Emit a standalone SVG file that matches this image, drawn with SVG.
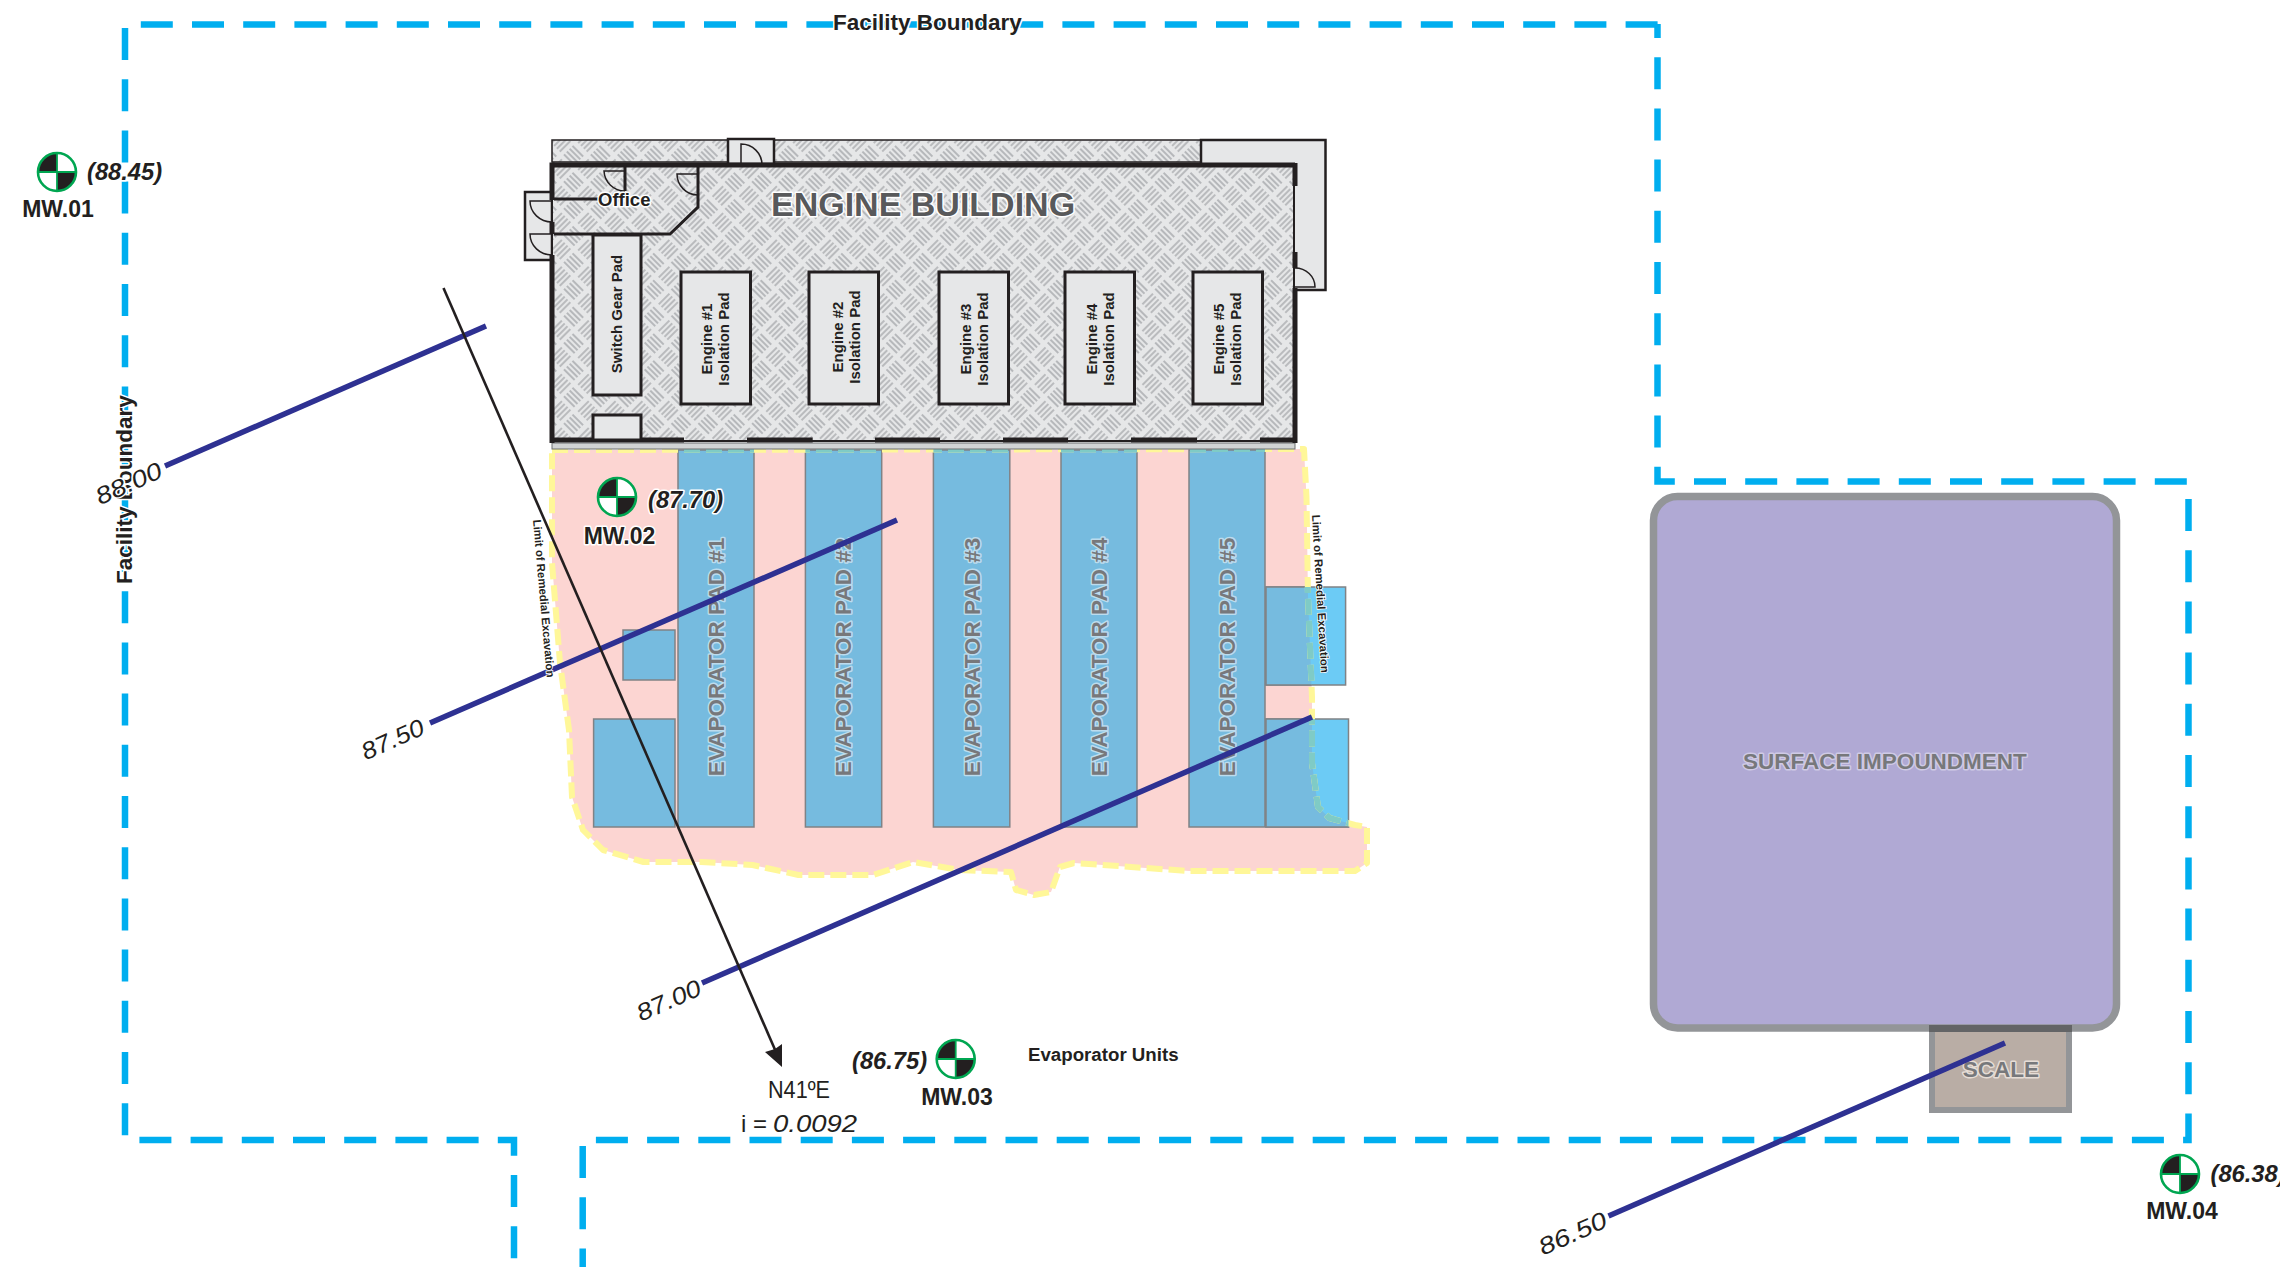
<svg xmlns="http://www.w3.org/2000/svg" xmlns:xlink="http://www.w3.org/1999/xlink" width="2280" height="1267" viewBox="0 0 2280 1267">
<style>
text{font-family:"Liberation Sans",Arial,sans-serif;fill:#231f20}
.b{font-weight:bold}
.bound{fill:none;stroke:#00aeef;stroke-width:6.5;stroke-dasharray:32 19.2}
.halo{paint-order:stroke;stroke:#fff;stroke-width:3;stroke-linejoin:round}
.pad{fill:#e6e7e8;stroke:#231f20;stroke-width:3}
.wall{fill:none;stroke:#231f20;stroke-width:5}
.thin{fill:none;stroke:#231f20;stroke-width:2}
.door{fill:none;stroke:#231f20;stroke-width:1.5}
.lite{fill:#e6e7e8;stroke:#231f20;stroke-width:2.5}
.evap{fill:#76bbdf;stroke:#808285;stroke-width:1.5}
.sideL{fill:#6ccbf5;stroke:#808285;stroke-width:1.5}
.evt{font-size:22.5px;font-weight:bold;fill:#77787b;paint-order:stroke;stroke:#bcdcee;stroke-width:3;stroke-linejoin:round;text-anchor:middle}
.ept{font-size:15px;font-weight:bold;text-anchor:middle;paint-order:stroke;stroke:#e6e7e8;stroke-width:1}
.contour{fill:none;stroke:#2e3192;stroke-width:5.5}
.cl{font-size:24px;font-style:italic;text-anchor:middle}
.mw{font-size:23px;font-weight:bold;text-anchor:middle}
.el{font-size:23.7px;font-weight:bold;font-style:italic}
.lim{font-size:11.4px;font-weight:bold;paint-order:stroke;stroke:#fff;stroke-width:1.5}
.lim-line{fill:none;stroke-width:6;stroke-dasharray:16 6;stroke-linejoin:round}
</style>
<defs>
<pattern id="plate" patternUnits="userSpaceOnUse" width="38" height="38" patternTransform="rotate(45 552 165)">
<rect width="38" height="38" fill="#e6e7e8"/>
<g stroke="#a7a9ac" stroke-width="1.4">
<path d="M2 4H17M2 8H17M2 12H17M2 16H17"/>
<path d="M21 23H36M21 27H36M21 31H36M21 35H36"/>
<path d="M23 2V17M27 2V17M31 2V17M35 2V17"/>
<path d="M4 21V36M8 21V36M12 21V36M16 21V36"/>
</g>
</pattern>
<path id="limit" d="M552,450 L1304,449 L1306.5,497 L1308,597 L1312,697 L1312,763 L1318,807 L1329.5,818 L1355,825 L1367,827 L1367,863 L1355,871 L1189,871 L1074,863 L1060,867 L1051,892 L1034,895 L1016,890 L1011,872 L959,870 L913,862 L873,875 L798.5,875 L752.6,865 L701,862 L643.5,862 L603,850 L583,830 L572,797 L569,730 L560,663 L552,563 Z"/>
<clipPath id="pinkClip"><use href="#limit"/></clipPath>
<clipPath id="boxClip">
<rect x="678" y="440" width="76" height="387"/><rect x="805.4" y="440" width="76.3" height="387"/><rect x="933.4" y="440" width="76.4" height="387"/><rect x="1061" y="440" width="76" height="387"/><rect x="1189" y="440" width="76" height="387"/><rect x="1266" y="587" width="79.6" height="98"/><rect x="1266" y="719" width="82.5" height="108"/>
</clipPath>
<g id="well">
<circle r="19" fill="#fff"/>
<path d="M0,0V-19A19,19 0 0 0 -19,0Z M0,0V19A19,19 0 0 0 19,0Z" fill="#231f20"/>
<path d="M-19,0H19M0,-19V19" stroke="#00a651" stroke-width="1.8" fill="none"/>
<circle r="19" fill="none" stroke="#00a651" stroke-width="2.6"/>
</g>
</defs>
<rect width="2280" height="1267" fill="#fff"/>

<g id="facility-boundary">
<path class="bound" d="M125,28V1140H514V1267"/>
<path class="bound" d="M140.8,24.5H1658"/>
<path class="bound" stroke-dashoffset="18" d="M1657.5,24V481.5H2188.5V1140H592"/>
<path class="bound" d="M582.7,1146V1267"/>
</g>

<g id="remedial-excavation"><use href="#limit" fill="#fcd5d2"/></g>

<g id="evaporator-pads">
<rect class="evap" x="623" y="630" width="52" height="50"/>
<rect class="evap" x="593.6" y="719" width="81.4" height="108"/>
<rect class="sideL" x="1266" y="587" width="79.6" height="98"/>
<rect class="sideL" x="1266" y="719" width="82.5" height="108"/>
<g clip-path="url(#pinkClip)">
<rect class="evap" x="1266" y="587" width="79.6" height="98"/>
<rect class="evap" x="1266" y="719" width="82.5" height="108"/>
</g>
<g id="evap-1"><rect class="evap" x="678" y="450" width="76" height="377"/><text class="evt" transform="translate(724,657) rotate(-90)">EVAPORATOR PAD #1</text></g>
<g id="evap-2"><rect class="evap" x="805.4" y="450" width="76.3" height="377"/><text class="evt" transform="translate(851,657) rotate(-90)">EVAPORATOR PAD #2</text></g>
<g id="evap-3"><rect class="evap" x="933.4" y="450" width="76.4" height="377"/><text class="evt" transform="translate(980,657) rotate(-90)">EVAPORATOR PAD #3</text></g>
<g id="evap-4"><rect class="evap" x="1061" y="450" width="76" height="377"/><text class="evt" transform="translate(1107,657) rotate(-90)">EVAPORATOR PAD #4</text></g>
<g id="evap-5"><rect class="evap" x="1189" y="450" width="76" height="377"/><text class="evt" transform="translate(1235,657) rotate(-90)">EVAPORATOR PAD #5</text></g>
</g>

<g id="remedial-limit">
<use href="#limit" class="lim-line" stroke="#fff799"/>
<g clip-path="url(#boxClip)"><use href="#limit" class="lim-line" stroke="#7fcbc6"/></g>
</g>

<g id="engine-building">
<rect x="552" y="140" width="649" height="22" fill="url(#plate)" stroke="#231f20" stroke-width="1.5"/>
<rect class="lite" x="1201" y="140" width="124.5" height="150"/>
<rect class="lite" x="728" y="139" width="46" height="25"/>
<rect class="lite" x="525" y="192" width="27" height="68"/>
<rect x="552" y="443" width="743" height="6" fill="#d1d3d4" stroke="#6d6e71" stroke-width="1"/>
<rect x="552" y="165" width="743" height="276" fill="url(#plate)"/>
<path class="wall" d="M552,165H1295"/>
<path class="wall" d="M552,162.5V200M552,222V234M552,255V443"/>
<path class="thin" d="M552,200V222M552,234V255M1294,186V252M1294,268V288M552,441H1295"/>
<path class="wall" d="M1295,163V186M1295,252V268M1295,288V443"/>
<path class="wall" d="M550,440H684M747,440H812.7M875,440H940M1003,440H1068M1131,440H1197M1260,440H1297"/>
<path class="wall" style="stroke-width:3" d="M698,165V207L670,234H554M625,165V191M554,199H600"/>
<path class="door" d="M625,171H604A21,21 0 0 0 625,191M698,174H677A21,21 0 0 0 698,195M552,201H530A22,21 0 0 0 552,222M552,234H530A22,21 0 0 0 552,255"/>
<path class="door" d="M741,163V144A21,21 0 0 1 762,165"/>
<path class="door" d="M1295,268A20,19 0 0 1 1315,287H1295"/>
<g id="switch-gear-pad"><rect class="pad" x="593" y="235" width="48" height="160"/><text class="ept" transform="translate(622,314) rotate(-90)">Switch Gear Pad</text></g>
<rect id="small-pad" class="pad" x="593" y="415" width="48" height="25"/>
<g id="engine-1"><rect class="pad" x="681" y="272" width="69.5" height="132"/><text class="ept" transform="translate(712,339) rotate(-90)">Engine #1</text><text class="ept" transform="translate(729,339) rotate(-90)">Isolation Pad</text></g>
<g id="engine-2"><rect class="pad" x="809" y="272" width="69.5" height="132"/><text class="ept" transform="translate(843,337) rotate(-90)">Engine #2</text><text class="ept" transform="translate(860,337) rotate(-90)">Isolation Pad</text></g>
<g id="engine-3"><rect class="pad" x="939" y="272" width="69.5" height="132"/><text class="ept" transform="translate(971,339) rotate(-90)">Engine #3</text><text class="ept" transform="translate(988,339) rotate(-90)">Isolation Pad</text></g>
<g id="engine-4"><rect class="pad" x="1065" y="272" width="69.5" height="132"/><text class="ept" transform="translate(1097,339) rotate(-90)">Engine #4</text><text class="ept" transform="translate(1114,339) rotate(-90)">Isolation Pad</text></g>
<g id="engine-5"><rect class="pad" x="1193" y="272" width="69.5" height="132"/><text class="ept" transform="translate(1224,339) rotate(-90)">Engine #5</text><text class="ept" transform="translate(1241,339) rotate(-90)">Isolation Pad</text></g>
<text class="b" x="771" y="216" font-size="34" style="fill:#58595b;paint-order:stroke;stroke:#fff;stroke-width:3;stroke-linejoin:round">ENGINE BUILDING</text>
<text class="b halo" x="598" y="206" font-size="18.5">Office</text>
</g>

<g id="surface-impoundment">
<rect x="1653.5" y="496.5" width="463" height="531.5" rx="24" fill="#b0a9d4" stroke="#939598" stroke-width="7.5"/>
<text class="b" x="1885" y="769" font-size="22.5" text-anchor="middle" style="fill:#77787b;paint-order:stroke;stroke:#cfcae5;stroke-width:3;stroke-linejoin:round">SURFACE IMPOUNDMENT</text>
</g>
<g id="scale">
<rect x="1932" y="1028" width="137" height="82" fill="#b9ada5" stroke="#939598" stroke-width="6"/>
<rect x="1929" y="1025" width="143" height="7" fill="#636466"/>
<text class="b" x="2001" y="1077" font-size="22.5" text-anchor="middle" style="fill:#77787b;paint-order:stroke;stroke:#e6ddd6;stroke-width:3;stroke-linejoin:round">SCALE</text>
</g>

<g id="connectors">
<path class="contour" d="M165,466L486,326"/>
<path class="contour" d="M430,723L897,520"/>
<path class="contour" d="M702,983L1312,717"/>
<path class="contour" d="M1608.5,1216L2005,1043"/>
<path fill="none" stroke="#231f20" stroke-width="2.6" d="M443.5,288L776,1052"/>
<path fill="#231f20" d="M782,1067L765,1052L775,1049L782,1044Z"/>
</g>

<g id="gradient-label">
<text x="768" y="1098" font-size="24" textLength="62" lengthAdjust="spacingAndGlyphs">N41ºE</text>
<text x="741" y="1131.5" font-size="24">i =</text>
<text x="773" y="1131.5" font-size="24" font-style="italic" textLength="84" lengthAdjust="spacingAndGlyphs">0.0092</text>
</g>

<g id="labels">
<text class="b" x="1028" y="1061" font-size="18.7">Evaporator Units</text>
<text class="b halo" x="833" y="30" font-size="22.5">Facility Boundary</text>
<text class="b halo" font-size="22.5" transform="translate(132,584) rotate(-90)">Facility Boundary</text>
<text class="lim" transform="translate(533,520) rotate(85)">Limit of Remedial Excavation</text>
<text class="lim" transform="translate(1312,515) rotate(86.7)">Limit of Remedial Excavation</text>
</g>

<g id="contour-labels">
<text class="cl halo" textLength="70" lengthAdjust="spacingAndGlyphs" transform="translate(132,491) rotate(-24)">88.00</text>
<text class="cl" textLength="66" lengthAdjust="spacingAndGlyphs" transform="translate(396,747) rotate(-24)">87.50</text>
<text class="cl" textLength="68" lengthAdjust="spacingAndGlyphs" transform="translate(672,1008) rotate(-24)">87.00</text>
<text class="cl" textLength="72" lengthAdjust="spacingAndGlyphs" transform="translate(1576,1241) rotate(-24)">86.50</text>
</g>

<g id="MW01"><use href="#well" x="57" y="172"/><text class="mw" x="58" y="217">MW.01</text><text class="el halo" x="87" y="180">(88.45)</text></g>
<g id="MW02"><use href="#well" x="617" y="497"/><text class="mw halo" x="619.5" y="544">MW.02</text><text class="el halo" x="648" y="508">(87.70)</text></g>
<g id="MW03"><use href="#well" x="955.7" y="1059"/><text class="mw" x="957" y="1105">MW.03</text><text class="el" x="852" y="1069">(86.75)</text></g>
<g id="MW04"><use href="#well" x="2180" y="1174"/><text class="mw" x="2182" y="1219">MW.04</text><text class="el" x="2210.5" y="1182">(86.38)</text></g>
</svg>
